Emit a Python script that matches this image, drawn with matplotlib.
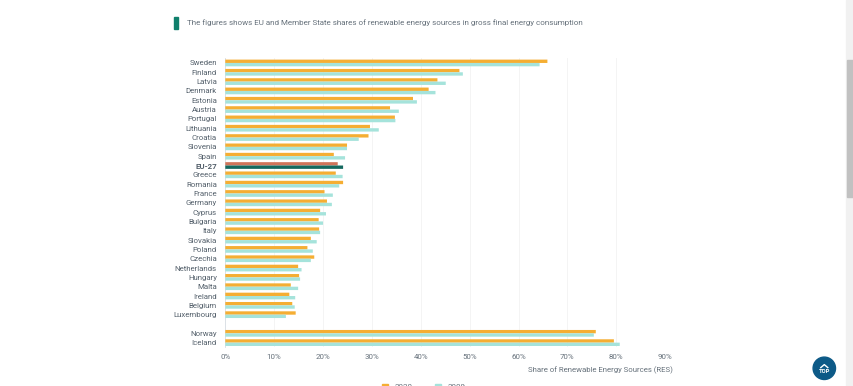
import matplotlib
matplotlib.use('Agg')
import matplotlib.pyplot as plt
from matplotlib.patches import Rectangle, Circle
import numpy as np

plt.rcParams['font.family'] = ['Roboto', 'DejaVu Sans']

countries = ['Sweden', 'Finland', 'Latvia', 'Denmark', 'Estonia', 'Austria', 'Portugal',
             'Lithuania', 'Croatia', 'Slovenia', 'Spain', 'EU-27', 'Greece', 'Romania',
             'France', 'Germany', 'Cyprus', 'Bulgaria', 'Italy', 'Slovakia', 'Poland',
             'Czechia', 'Netherlands', 'Hungary', 'Malta', 'Ireland', 'Belgium',
             'Luxembourg', '', 'Norway', 'Iceland']
share_a = [65.9, 47.9, 43.4, 41.6, 38.4, 33.7, 34.7, 29.6, 29.3, 24.9, 22.2, 23.0, 22.6,
           24.1, 20.3, 20.8, 19.4, 19.1, 19.2, 17.5, 16.8, 18.2, 14.9, 15.1, 13.4, 13.1,
           13.7, 14.4, 0, 75.8, 79.5]
share_b = [64.3, 48.6, 45.1, 43.0, 39.2, 35.5, 34.8, 31.4, 27.3, 24.9, 24.5, 24.1, 24.0,
           23.3, 22.0, 21.8, 20.6, 20.0, 19.4, 18.7, 17.9, 17.5, 15.6, 15.3, 14.9, 14.3,
           14.2, 12.4, 0, 75.4, 80.7]
year_labels = ['2020', '2009']
pct_ticks = [0, 10, 20, 30, 40, 50, 60, 70, 80, 90]

W, H = 854, 386
fig = plt.figure(figsize=(W / 100, H / 100), dpi=100)
L, R, T, B = 225.3, 665.2, 58.3, 347.3
ax = fig.add_axes([L / W, 1 - B / H, (R - L) / W, (B - T) / H])

y = np.arange(len(countries))
bar_h = 0.36
cols_a = ['#f5ae33'] * len(countries)
cols_b = ['#a5e3db'] * len(countries)
eu = countries.index('EU-27')
cols_a[eu] = '#d0745a'
cols_b[eu] = '#14695f'
ax.barh(y - bar_h / 2, share_a, bar_h, color=cols_a, zorder=3, snap=False, lw=0)
ax.barh(y + bar_h / 2, share_b, bar_h, color=cols_b, zorder=3, snap=False, lw=0)

ax.set_xlim(0, 90)
ax.set_ylim(len(countries) - 0.5, -0.5)
ax.set_xticks(pct_ticks)
ax.set_xticklabels([f'{t}%' for t in pct_ticks], fontsize=5.7, color='#66717b')
ax.set_yticks(y)
ax.set_yticklabels(countries, fontsize=5.7, color='#55616c')
ax.get_yticklabels()[eu].set_fontweight('bold')
ax.tick_params(length=0, axis='both')
ax.tick_params(axis='x', pad=4.5)
ax.tick_params(axis='y', pad=6)
ax.grid(axis='x', color='#f2f2f2', lw=0.6, zorder=0)
for s in ['top', 'right', 'bottom']:
    ax.spines[s].set_visible(False)
ax.spines['left'].set_color('#d8dee4')
ax.spines['left'].set_linewidth(0.6)

# page furniture, in pixel coordinates
page = fig.add_axes([0, 0, 1, 1], zorder=5)
page.set_xlim(0, W)
page.set_ylim(H, 0)
page.axis('off')
page.add_patch(Rectangle((174, 17), 4.5, 12, color='#0f7f6c'))
page.text(187, 22.5, 'The figures shows EU and Member State shares of renewable energy sources in gross final energy consumption',
          fontsize=5.76, color='#66717b', va='center')
page.text(673, 370, 'Share of Renewable Energy Sources (RES)', fontsize=5.6, color='#66717b',
          ha='right', va='center')
page.add_patch(Rectangle((846.5, 0), 7.5, H, color='#f1f1f1'))
page.add_patch(Rectangle((847.5, 60), 6, 137, color='#c1c1c1'))
page.add_patch(Circle((824.3, 368.3), 11.2, color='#0d5a87'))
page.plot([820.8, 824.3, 827.8], [367.6, 364.6, 367.6], color='white', lw=1.0)
page.text(824.3, 371.4, 'TOP', fontsize=4.2, color='white', weight='bold', ha='center', va='center')
page.add_patch(Rectangle((382, 384), 6, 2, color='#f5ae33'))
page.add_patch(Rectangle((435, 384), 6, 2, color='#a5e3db'))
page.text(395, 386.8, year_labels[0], fontsize=5.7, color='#66717b', va='center')
page.text(448, 386.8, year_labels[1], fontsize=5.7, color='#66717b', va='center')

fig.savefig('out.png', dpi=100)
